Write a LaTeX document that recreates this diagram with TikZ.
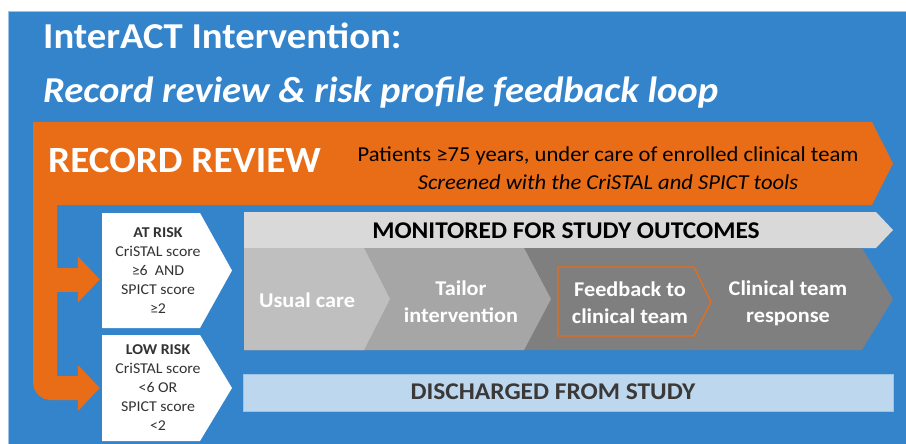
\documentclass[tikz,border=0pt]{standalone}
\usepackage{fontspec}
\setmainfont[FakeStretch=1.06]{Carlito}
\usetikzlibrary{arrows.meta}
\definecolor{bgblue}{RGB}{52,132,204}
\definecolor{rimblue}{RGB}{157,195,230}
\definecolor{revorange}{RGB}{233,108,23}
\definecolor{bandgray}{RGB}{217,217,217}
\definecolor{usualgray}{RGB}{191,191,191}
\definecolor{tailorgray}{RGB}{166,166,166}
\definecolor{stepgray}{RGB}{127,127,127}
\definecolor{dischblue}{RGB}{189,215,238}
\definecolor{textgray}{RGB}{59,56,56}
\begin{document}
\begin{tikzpicture}[x=1pt, y=-1pt,
  flow/.style={revorange, line width=24pt, -{Triangle[width=45pt, length=22pt]}},
  steptext/.style={white, font=\bfseries\fontsize{21}{27}\selectfont, align=center},
  risktext/.style={black!80, font=\fontsize{15}{19}\selectfont, align=center, minimum width=112pt},
  headtext/.style={font=\bfseries\fontsize{24}{26}\selectfont}]
\useasboundingbox (0,0) rectangle (906,444);
\fill[white] (0,0) rectangle (906,444);
\filldraw[fill=bgblue, draw=rimblue, line width=1pt] (8,12) rectangle (907,445);
%%%%%%%%%%%%%
\node[white, font=\bfseries\fontsize{36.5}{40}\selectfont, anchor=base west, inner sep=0pt] (title) at (43,49) {InterACT Intervention:};
\node[white, font=\bfseries\itshape\fontsize{36.5}{40}\selectfont, anchor=base west, inner sep=0pt] (subtitle) at (43,102.5) {Record review \& risk profile feedback loop};
%%%%%%%%%%%%%
\fill[revorange] (33,122) -- (872,122) -- (893,163.5) -- (872,205) -- (33,205) -- cycle;
\node[white, font=\bfseries\fontsize{37}{40}\selectfont, anchor=base west, inner sep=0pt] (review) at (48,172) {RECORD REVIEW};
\node[font=\fontsize{21.3}{28.5}\selectfont, align=center] (patients) at (608,168) {Patients ≥75 years, under care of enrolled clinical team\\\textit{Screened with the CriSTAL and SPICT tools}};
%%%%%%%%%%%%%
\fill[white] (102,213) -- (200,213) -- (232,270.5) -- (200,328) -- (102,328) -- cycle;
\fill[white] (102,335) -- (200,335) -- (232,388) -- (200,441) -- (102,441) -- cycle;
\node[risktext, minimum height=115pt] (atrisk) at (158,270.5) {\textbf{AT RISK}\\CriSTAL score\\≥6~ AND\\SPICT score\\≥2};
\node[risktext, minimum height=106pt] (lowrisk) at (158,388) {\textbf{LOW RISK}\\CriSTAL score\\<6 OR\\SPICT score\\<2};
%%%%%%%%%%%%%
\fill[bandgray] (244,212) -- (876,212) -- (893,230) -- (876,248) -- (244,248) -- cycle;
\fill[stepgray] (244,248) -- (862,248) -- (893,299) -- (862,350) -- (244,350) -- cycle;
\fill[tailorgray] (244,248) -- (524,248) -- (551,299) -- (524,350) -- (244,350) -- cycle;
\fill[usualgray] (244,248) -- (364,248) -- (390,299) -- (364,350) -- (244,350) -- cycle;
\draw[revorange, line width=1.3pt] (558,267) -- (694,267) -- (711,302) -- (694,336) -- (558,336) -- cycle;
\node[headtext] (monitored) at (566,231) {MONITORED FOR STUDY OUTCOMES};
\node[steptext] (usual) at (307,300) {Usual care};
\node[steptext] (tailor) at (461,302) {Tailor\\intervention};
\node[steptext] (feedback) at (630,303) {Feedback to\\clinical team};
\node[steptext] (response) at (788,303) {Clinical team\\response};
%%%%%%%%%%%%%
\filldraw[fill=dischblue, draw=rimblue, line width=0.8pt] (243,374) rectangle (893,411);
\node[headtext, textgray] (discharged) at (553,392) {DISCHARGED FROM STUDY};
%%%%%%%%%%%%%
\coordinate (fork) at (45,195);
\draw[flow] (fork) |- ([shift={(-2pt,-9pt)}]atrisk.west);
\draw[flow, rounded corners=6pt] (fork) |- ([xshift=-2pt]lowrisk.west);
\end{tikzpicture}
\end{document}
